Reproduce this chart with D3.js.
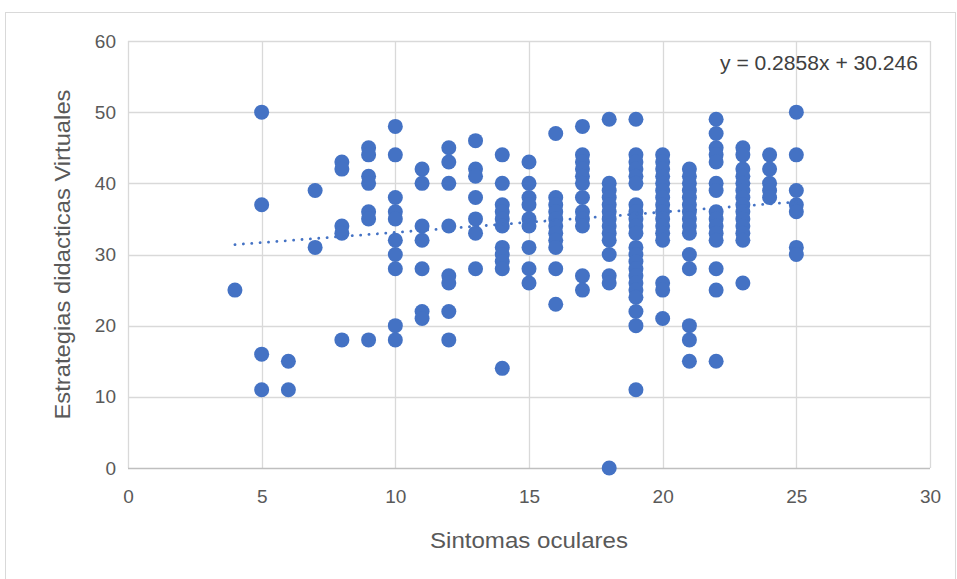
<!DOCTYPE html>
<html>
<head>
<meta charset="utf-8">
<script src="https://cdn.jsdelivr.net/npm/d3@7"></script>
<style>
  html, body { margin: 0; padding: 0; background: #fff; }
  svg { display: block; }
</style>
</head>
<body>
<svg id="chart" width="957" height="579"></svg>
<script>
// ---- data ----
const xCategories = [4, 5, 6, 7, 8, 9, 10, 11, 12, 13, 14, 15, 16, 17, 18, 19, 20, 21, 22, 23, 24, 25];
const yValuesByX = [
  [25],
  [50, 37, 16, 11],
  [15, 11],
  [39, 31],
  [43, 42, 34, 33, 18],
  [45, 44, 41, 40, 36, 35, 18],
  [48, 44, 38, 36, 35, 32, 30, 28, 20, 18],
  [42, 40, 34, 32, 28, 22, 21],
  [45, 43, 40, 34, 27, 26, 22, 18],
  [46, 42, 41, 38, 35, 33, 28],
  [44, 40, 37, 36, 35, 34, 31, 30, 29, 28, 14],
  [43, 40, 38, 37, 35, 34, 31, 28, 26],
  [47, 38, 37, 36, 35, 34, 33, 32, 31, 28, 23],
  [48, 44, 43, 42, 41, 40, 38, 36, 35, 34, 27, 25],
  [49, 40, 39, 38, 37, 36, 35, 34, 33, 32, 30, 27, 26, 0],
  [49, 44, 43, 42, 41, 40, 37, 36, 35, 34, 33, 31, 30, 29, 28, 27, 26, 25, 24, 22, 20, 11],
  [44, 43, 42, 41, 40, 39, 38, 37, 36, 35, 34, 33, 32, 26, 25, 21],
  [42, 41, 40, 39, 38, 37, 36, 35, 34, 33, 30, 28, 20, 18, 15],
  [49, 47, 45, 44, 43, 40, 39, 36, 35, 34, 33, 32, 28, 25, 15],
  [45, 44, 42, 41, 40, 39, 38, 37, 36, 35, 34, 33, 32, 26],
  [44, 42, 40, 39, 38],
  [50, 44, 39, 37, 36, 31, 30]
];
const xTicks = [0, 5, 10, 15, 20, 25, 30];
const yTicks = [0, 10, 20, 30, 40, 50, 60];
const trendSlope = 0.2858;
const trendIntercept = 30.246;
const trendRange = [4, 25];
const equationLabel = "y = 0.2858x + 30.246";
const xTitle = "Sintomas oculares";
const yTitle = "Estrategias didacticas Virtuales";

const points = [];
xCategories.forEach((xv, i) => yValuesByX[i].forEach(yv => points.push({x: xv, y: yv})));

// ---- layout ----
const svg = d3.select("#chart");
const mLeft = 128, mRight = 930, mTop = 41, mBottom = 468;
const x = d3.scaleLinear().domain([0, 30]).range([mLeft, mRight]);
const y = d3.scaleLinear().domain([0, 60]).range([mBottom, mTop]);
const font = "'Liberation Sans', Arial, sans-serif";
const textColor = "#595959";
const blue = "#4472C4";

// outer border
svg.append("rect").attr("x", 5.5).attr("y", 12.5).attr("width", 950).attr("height", 570)
  .attr("fill", "none").attr("stroke", "#d9d9d9").attr("stroke-width", 1);

// gridlines
const grid = svg.append("g");
grid.selectAll(".gx").data(xTicks).join("line")
  .attr("x1", d => Math.round(x(d)) + 0.5).attr("x2", d => Math.round(x(d)) + 0.5)
  .attr("y1", mTop).attr("y2", mBottom)
  .attr("stroke", "#d9d9d9").attr("stroke-width", 1.3);
grid.selectAll(".gy").data(yTicks.filter(d => d > 0)).join("line")
  .attr("x1", mLeft).attr("x2", mRight)
  .attr("y1", d => Math.round(y(d)) + 0.5).attr("y2", d => Math.round(y(d)) + 0.5)
  .attr("stroke", "#d9d9d9").attr("stroke-width", 1.3);
// x axis line
svg.append("line").attr("x1", mLeft).attr("x2", mRight)
  .attr("y1", Math.round(y(0)) + 0.5).attr("y2", Math.round(y(0)) + 0.5)
  .attr("stroke", "#bfbfbf").attr("stroke-width", 1.5);

// axes labels via d3 axes (no lines)
const xAxis = svg.append("g").attr("transform", `translate(0,${mBottom + 21})`)
  .call(d3.axisBottom(x).tickValues(xTicks).tickSize(0).tickPadding(0));
const yAxis = svg.append("g").attr("transform", `translate(${mLeft - 12},0)`)
  .call(d3.axisLeft(y).tickValues(yTicks).tickSize(0).tickPadding(0));
[xAxis, yAxis].forEach(a => {
  a.select(".domain").remove();
  a.selectAll("text").attr("font-family", font).attr("font-size", 19).attr("fill", textColor);
});
xAxis.selectAll("text").attr("dy", "0.75em");

// points
svg.append("g").selectAll("circle").data(points).join("circle")
  .attr("cx", d => x(d.x)).attr("cy", d => y(d.y)).attr("r", 7.5)
  .attr("fill", blue);

// trendline
svg.append("line")
  .attr("x1", x(trendRange[0])).attr("y1", y(trendSlope * trendRange[0] + trendIntercept))
  .attr("x2", x(trendRange[1])).attr("y2", y(trendSlope * trendRange[1] + trendIntercept))
  .attr("stroke", blue).attr("stroke-width", 2.8)
  .attr("stroke-linecap", "round").attr("stroke-dasharray", "0.1 8.3");

// equation
svg.append("text").attr("x", 918).attr("y", 70).attr("text-anchor", "end")
  .attr("font-family", font).attr("font-size", 20).attr("fill", "#404040")
  .attr("textLength", 198).attr("lengthAdjust", "spacingAndGlyphs")
  .text(equationLabel);

// titles
svg.append("text").attr("x", (mLeft + mRight) / 2).attr("y", 548).attr("text-anchor", "middle")
  .attr("font-family", font).attr("font-size", 22).attr("fill", textColor)
  .attr("textLength", 198).attr("lengthAdjust", "spacingAndGlyphs").text(xTitle);
svg.append("text").attr("transform", `translate(70,${(mTop + mBottom) / 2}) rotate(-90)`)
  .attr("text-anchor", "middle")
  .attr("font-family", font).attr("font-size", 22).attr("fill", textColor)
  .attr("textLength", 330).attr("lengthAdjust", "spacingAndGlyphs").text(yTitle);
</script>
</body>
</html>
